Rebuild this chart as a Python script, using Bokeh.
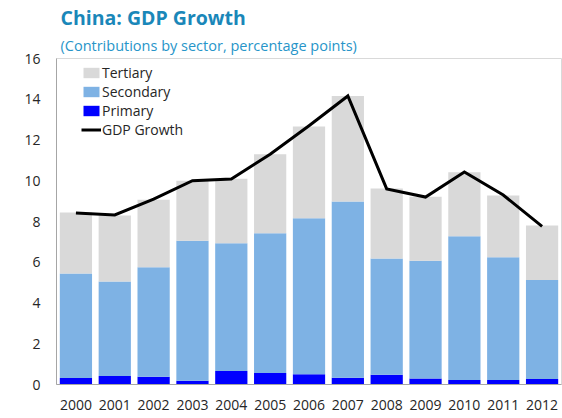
from bokeh.plotting import figure
from bokeh.models import ColumnDataSource, FactorRange, Range1d, FixedTicker, Legend, LegendItem, Title
from bokeh.embed import file_html
from bokeh.resources import INLINE

years = ["2000", "2001", "2002", "2003", "2004", "2005", "2006",
         "2007", "2008", "2009", "2010", "2011", "2012"]
primary = [0.32, 0.42, 0.38, 0.19, 0.66, 0.57, 0.50, 0.33, 0.48, 0.30, 0.22, 0.22, 0.27]
secondary = [5.13, 4.64, 5.37, 6.87, 6.27, 6.85, 7.66, 8.65, 5.71, 5.77, 7.05, 6.02, 4.86]
tertiary = [2.99, 3.23, 3.32, 2.94, 3.17, 3.88, 4.50, 5.18, 3.43, 3.15, 3.15, 3.03, 2.67]
gdp_growth = [8.42, 8.32, 9.1, 10.0, 10.09, 11.3, 12.7, 14.16, 9.6, 9.2, 10.43, 9.3, 7.76]
y_ticks = [0, 2, 4, 6, 8, 10, 12, 14, 16]

title_text = "China: GDP Growth"
subtitle_text = "(Contributions by sector, percentage points)"

FONT = "Open Sans"
TITLE_COLOR = "#1a87b9"
TEXT_COLOR = "#262626"

source = ColumnDataSource(data=dict(years=years, Primary=primary,
                                    Secondary=secondary, Tertiary=tertiary,
                                    gdp=gdp_growth))

p = figure(x_range=FactorRange(*years), y_range=Range1d(0, 16),
           width=562, height=418, output_backend="svg", toolbar_location=None,
           title=None, min_border_left=56, min_border_right=1,
           min_border_top=58, min_border_bottom=34)
p.x_range.range_padding = 0

bars = p.vbar_stack(["Primary", "Secondary", "Tertiary"], x="years", width=0.83,
                    source=source, color=["#0000ff", "#7eb2e4", "#d9d9d9"],
                    line_color=None)
line = p.line(x="years", y="gdp", source=source, line_color="black",
              line_width=3, line_join="miter")

legend = Legend(items=[
    LegendItem(label="Tertiary", renderers=[bars[2]]),
    LegendItem(label="Secondary", renderers=[bars[1]]),
    LegendItem(label="Primary", renderers=[bars[0]]),
    LegendItem(label="GDP Growth", renderers=[line]),
], location=(25, 245), margin=0, padding=0, spacing=0,
    glyph_width=20, glyph_height=13, label_height=19, label_standoff=1,
    border_line_color=None, background_fill_alpha=0,
    label_text_font=FONT, label_text_font_size="14px", label_text_color=TEXT_COLOR)
p.add_layout(legend, "center")

p.grid.visible = False
p.outline_line_color = "#d9d9d9"
p.outline_line_width = 1

for ax in (p.xaxis[0], p.yaxis[0]):
    ax.axis_line_color = "#a6a6a6"
    ax.axis_line_width = 1
    ax.major_tick_in = 0
    ax.major_tick_out = 0
    ax.minor_tick_in = 0
    ax.minor_tick_out = 0
    ax.major_label_text_font = FONT
    ax.major_label_text_font_size = "14px"
    ax.major_label_text_color = TEXT_COLOR

p.yaxis[0].ticker = FixedTicker(ticks=y_ticks)
p.yaxis[0].major_label_standoff = 16
p.xaxis[0].major_label_standoff = 15

p.add_layout(Title(text=subtitle_text, text_font=FONT, text_font_size="14.5px",
                   text_font_style="normal", text_color="#2795c9",
                   align="left", offset=4, standoff=7), "above")
p.add_layout(Title(text=title_text, text_font=FONT, text_font_size="19.5px",
                   text_font_style="bold", text_color=TITLE_COLOR,
                   align="left", offset=4, standoff=0), "above")

open("out.html", "w").write(file_html(p, INLINE))
